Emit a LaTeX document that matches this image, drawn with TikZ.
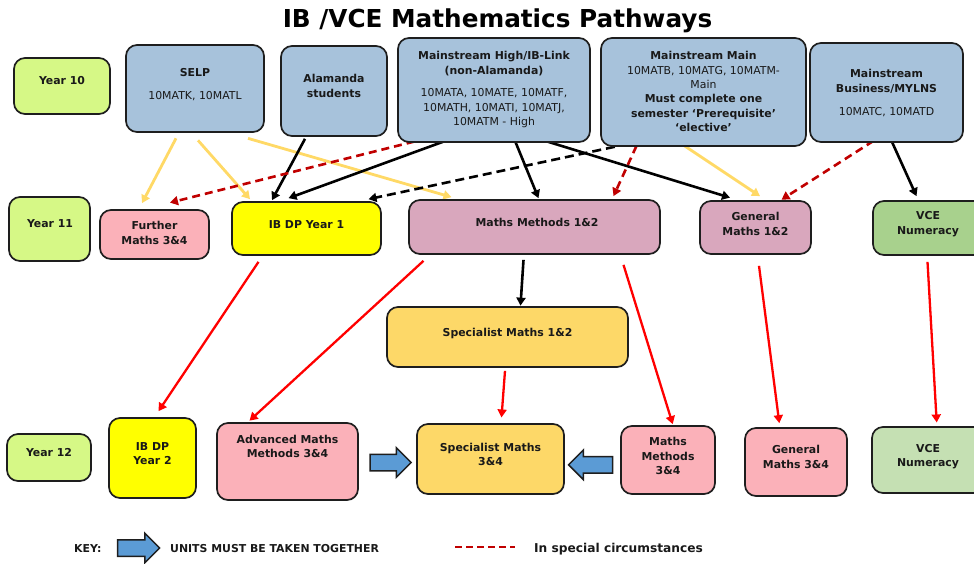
\documentclass[tikz,border=0pt]{standalone}
\usepackage{fontspec}
\setmainfont{DejaVu Sans}
\usetikzlibrary{shapes.arrows,arrows.meta,calc}
\pgfdeclarelayer{bg}
\pgfsetlayers{bg,main}
\definecolor{cYear}{HTML}{D6F886}
\definecolor{cBlue}{HTML}{A7C2DB}
\definecolor{cPink}{HTML}{FBB1B9}
\definecolor{cYellow}{HTML}{FFFF00}
\definecolor{cMauve}{HTML}{D9A7BD}
\definecolor{cGreenA}{HTML}{A8D18D}
\definecolor{cGreenB}{HTML}{C5E0B3}
\definecolor{cGold}{HTML}{FDD868}
\definecolor{cArrow}{HTML}{5B9BD5}
\definecolor{cYelLine}{HTML}{FFD966}
\definecolor{cDRed}{HTML}{C00000}
\definecolor{cBorder}{HTML}{1E1E1E}
\begin{document}
\begin{tikzpicture}[x=1pt,y=-1pt,
  box/.style={draw=cBorder, line width=1.7pt, rounded corners=11pt, inner sep=0pt},
  txt/.style={align=center, font=\fontsize{10.9}{14.3}\selectfont\bfseries, inner sep=0pt, text=black!90},
  rgl/.style={font=\fontsize{10.9}{14.5}\selectfont},
  arr/.style={-{Triangle[width=9pt,length=8pt]}},
  ylw/.style={draw=cYelLine, line width=2.8pt, arr},
  blk/.style={draw=black, line width=2.6pt, arr},
  blkd/.style={blk, dash pattern=on 9pt off 5pt},
  rdd/.style={draw=cDRed, line width=2.6pt, dash pattern=on 8pt off 5pt, arr},
  rd/.style={draw=red, line width=2.3pt, arr},
  barrow/.style={single arrow, draw=cBorder, fill=cArrow, line width=1.5pt,
    inner xsep=0pt, inner ysep=7.5pt, single arrow head extend=6.5pt,
    single arrow head indent=0pt, minimum width=0pt}
]
\useasboundingbox (0,0) rectangle (974,563);

% title
\node[inner sep=0pt, anchor=base, font=\fontsize{24.7}{28}\selectfont\bfseries] (title) at (497.5,27.5) {IB /VCE Mathematics Pathways};

% Year 10 row
\node[box, fill=cYear, minimum width=96pt, minimum height=56pt] (y10) at (62,86) {};
\node[txt] (y10t) at (62,81) {Year 10};
\node[box, fill=cBlue, minimum width=138pt, minimum height=87pt] (selp) at (195,88.5) {};
\node[txt] (selpt) at (195,73) {SELP};
\node[txt, rgl] (selpc) at (195,96) {10MATK, 10MATL};
\node[box, fill=cBlue, minimum width=106pt, minimum height=90pt] (alam) at (334,91) {};
\node[txt] (alamt) at (334,86) {Alamanda\\students};
\node[box, fill=cBlue, minimum width=192pt, minimum height=104pt] (mhigh) at (494,90) {};
\node[txt] (mhight) at (494,63.5) {Mainstream High/IB-Link\\(non-Alamanda)};
\node[txt, rgl] (mhighc) at (494,108.5) {10MATA, 10MATE, 10MATF,\\10MATH, 10MATI, 10MATJ,\\10MATM - High};
\node[box, fill=cBlue, minimum width=205pt, minimum height=108pt] (mmain) at (703.5,92) {};
\node[txt] (mmaint) at (703.5,91.5) {Mainstream Main\\\mdseries 10MATB, 10MATG, 10MATM-\\\mdseries Main\\Must complete one\\semester ‘Prerequisite’\\‘elective’};
\node[box, fill=cBlue, minimum width=153pt, minimum height=99pt] (mbus) at (886.5,92.5) {};
\node[txt] (mbust) at (886.5,81.5) {Mainstream\\Business/MYLNS};
\node[txt, rgl] (mbusc) at (886.5,112) {10MATC, 10MATD};

% Year 11 row
\node[box, fill=cYear, minimum width=81pt, minimum height=64pt] (y11) at (49.5,229) {};
\node[txt] (y11t) at (50,224) {Year 11};
\node[box, fill=cPink, minimum width=109pt, minimum height=49pt] (fur) at (154.5,234.5) {};
\node[txt] (furt) at (154.5,233) {Further\\Maths 3\&4};
\node[box, fill=cYellow, minimum width=149pt, minimum height=53pt] (ib1) at (306.5,228.5) {};
\node[txt] (ib1t) at (306.5,225) {IB DP Year 1};
\node[box, fill=cMauve, minimum width=251pt, minimum height=54pt] (mm12) at (534.5,227) {};
\node[txt] (mm12t) at (537,222) {Maths Methods 1\&2};
\node[box, fill=cMauve, minimum width=111pt, minimum height=53pt] (gm12) at (755.5,227.5) {};
\node[txt] (gm12t) at (755.5,224) {General\\Maths 1\&2};
\node[box, fill=cGreenA, minimum width=117pt, minimum height=54pt] (vn11) at (931.5,228) {};
\node[txt] (vn11t) at (928,224) {VCE\\Numeracy};

% Specialist 1&2
\node[box, fill=cGold, minimum width=241pt, minimum height=60pt] (sp12) at (507.5,337) {};
\node[txt] (sp12t) at (507.5,333) {Specialist Maths 1\&2};

% Year 12 row
\node[box, fill=cYear, minimum width=84pt, minimum height=47pt] (y12) at (49,457.5) {};
\node[txt] (y12t) at (49,453) {Year 12};
\node[box, fill=cYellow, minimum width=87pt, minimum height=80pt] (ib2) at (152.5,458) {};
\node[txt] (ib2t) at (152.5,453.5) {IB DP\\Year 2};
\node[box, fill=cPink, minimum width=141pt, minimum height=77pt] (adv) at (287.5,461.5) {};
\node[txt] (advt) at (287.5,446.5) {Advanced Maths\\Methods 3\&4};
\node[box, fill=cGold, minimum width=147pt, minimum height=70pt] (sp34) at (490.5,459) {};
\node[txt] (sp34t) at (490.5,454.5) {Specialist Maths\\3\&4};
\node[box, fill=cPink, minimum width=94pt, minimum height=68pt] (mm34) at (668,460) {};
\node[txt] (mm34t) at (668,456) {Maths\\Methods\\3\&4};
\node[box, fill=cPink, minimum width=102pt, minimum height=68pt] (gm34) at (796,462) {};
\node[txt] (gm34t) at (796,457) {General\\Maths 3\&4};
\node[box, fill=cGreenB, minimum width=118pt, minimum height=66pt] (vn12) at (931,460) {};
\node[txt] (vn12t) at (928,456.5) {VCE\\Numeracy};

% block arrows
\node[barrow, minimum height=41pt] (ba1) at (386.5,462.5) {};
\node[barrow, minimum height=44pt, shape border rotate=180] (ba2) at (594.7,464.8) {};

% key
\node[txt, anchor=west] (keyt) at (74,549) {KEY:};
\node[barrow, minimum height=42pt] (ba3) at (134.5,548) {};
\node[txt, anchor=west] (unitst) at (170,549) {UNITS MUST BE TAKEN TOGETHER};
\coordinate (keyA) at (455,547);
\coordinate (keyB) at (515,547);
\draw[draw=cDRed, line width=2pt, dash pattern=on 7pt off 4pt] (keyA) -- (keyB);
\node[txt, anchor=west, font=\fontsize{12.2}{14}\selectfont\bfseries] (speciat) at (534,549) {In special circumstances};

% connectors
\begin{pgfonlayer}{bg}
\draw[ylw] ([shift={(-19,5.5)}]selp.south) -- ([shift={(-12.5,-6)}]fur.north);
\draw[ylw] ([shift={(3,7.5)}]selp.south) -- ([shift={(-56.5,-2)}]ib1.north);
\draw[ylw] ([shift={(53,5.5)}]selp.south) -- ([shift={(-83,-2)}]mm12.north);
\draw[ylw] ([shift={(-20.5,-2)}]mmain.south) -- ([shift={(4.5,-4)}]gm12.north);

\draw[blk] ([shift={(-29,2)}]alam.south) -- ([shift={(-34.5,-1)}]ib1.north);
\draw[blk] ([shift={(-43,-4)}]mhigh.south) -- ([shift={(-18,-3)}]ib1.north);
\draw[blk] ([shift={(21,-2)}]mhigh.south) -- ([shift={(4,-1)}]mm12.north);
\draw[blk] ([shift={(51,-2)}]mhigh.south) -- ([shift={(-25.5,-2.5)}]gm12.north);
\draw[blk] ([shift={(5,-2)}]mbus.south) -- ([shift={(-15,-4)}]vn11.north);
\draw[blk] ([shift={(-11,5)}]mm12.south) -- ([shift={(13,-0.5)}]sp12.north);

\draw[blkd] ([shift={(-75,-3)}]mmain.south) -- ([shift={(62,-2)}]ib1.north);

\draw[rdd] ([shift={(-67,-4.5)}]mhigh.south) -- ([shift={(15.5,-6.5)}]fur.north);
\draw[rdd] ([shift={(-67,-1)}]mmain.south) -- ([shift={(79,-3)}]mm12.north);
\draw[rdd] ([shift={(-13,-2)}]mbus.south) -- ([shift={(26,-0.5)}]gm12.north);

\draw[rd] ([shift={(-48,6)}]ib1.south) -- ([shift={(6,-6)}]ib2.north);
\draw[rd] ([shift={(-111,6)}]mm12.south) -- ([shift={(-38,-1.5)}]adv.north);
\draw[rd] ([shift={(89,10)}]mm12.south) -- ([shift={(4.7,-1)}]mm34.north);
\draw[rd] ([shift={(-2.5,3)}]sp12.south) -- ([shift={(11,-5.7)}]sp34.north);
\draw[rd] ([shift={(3.5,11)}]gm12.south) -- ([shift={(-16.7,-4)}]gm34.north);
\draw[rd] ([shift={(-4,6)}]vn11.south) -- ([shift={(5.7,-3.7)}]vn12.north);
\end{pgfonlayer}
\end{tikzpicture}
\end{document}
